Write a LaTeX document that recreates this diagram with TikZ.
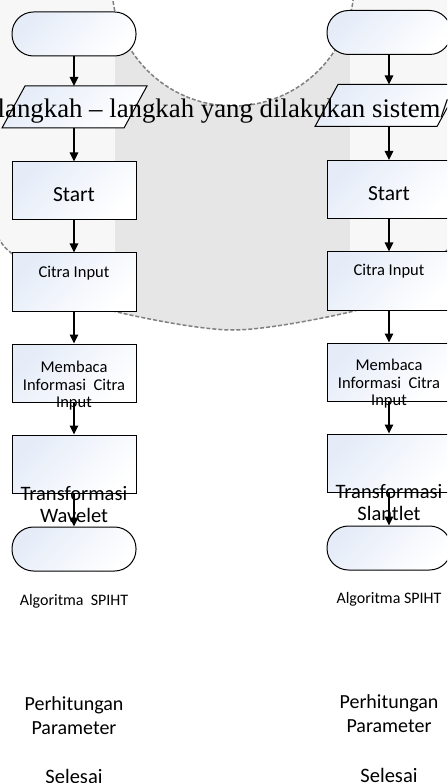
\documentclass[tikz,border=0pt]{standalone}
\usepackage{fontspec}
\setmainfont{Liberation Serif}
\newfontfamily\calfont{Carlito}
\usetikzlibrary{arrows.meta,shapes.geometric}
\definecolor{faint}{RGB}{247,247,247}
\definecolor{midgrey}{RGB}{230,230,230}
\definecolor{dashgrey}{RGB}{128,128,128}
\definecolor{bfill}{RGB}{229,236,248}
\begin{document}
\begin{tikzpicture}[x=1pt,y=-1pt,
  shapefill/.style={draw=black,line width=1pt,shading=axis,top color=bfill,bottom color=white,shading angle=45},
  box/.style={shapefill,minimum width=124pt,minimum height=58pt,inner sep=0pt},
  term/.style={box,minimum height=44pt,rounded corners=21.5pt},
  arr/.style={line width=1.4pt,-{Triangle[width=8.5pt,length=9pt]}},
  lbl/.style={font=\calfont, anchor=base, inner sep=0pt},
  dsh/.style={dashgrey,dash pattern=on 4pt off 2pt,line width=1.5pt},
]
\useasboundingbox (0,0) rectangle (447,783);
\clip (0,0) rectangle (447,783);
% background
\fill[faint] (0,0) -- (447,0) -- plot[smooth] coordinates {(447,250) (400,290) (350,312) (233,330) (117,312) (60,289) (10,252) (0,240)} -- cycle;
\begin{scope}
\clip (0,0) -- (447,0) -- plot[smooth] coordinates {(447,250) (400,290) (350,312) (233,330) (117,312) (60,289) (10,252) (0,240)} -- cycle;
\fill[midgrey] (115,0) rectangle (350,340);
\end{scope}
\fill[white] (233,-15) circle (121);
\draw[dsh] (233,-15) circle (121);
\draw[dsh] plot[smooth] coordinates {(447,250) (400,290) (350,312) (233,330) (117,312) (60,289) (10,252) (0,240)};

% left column
\node[term] (t1) at (74,34) {};
\draw[shapefill] (2,128) -- (25,86) -- (147,86) -- (124,128) -- cycle;
\coordinate (p1n) at (74,86);
\coordinate (p1s) at (74,128);
\node[box] (s1) at (74,191) {};
\node[box] (c1) at (74,282) {};
\node[box] (m1) at (74,373) {};
\node[box] (tr1) at (74,464) {};
\node[term] (e1) at (74,549) {};

% right column
\node[term] (t2) at (389,32.5) {};
\draw[shapefill] (315,126.5) -- (338,84.5) -- (460,84.5) -- (437,126.5) -- cycle;
\coordinate (p2n) at (389,84.5);
\coordinate (p2s) at (389,126.5);
\node[box] (s2) at (389,189.5) {};
\node[box] (c2) at (389,281) {};
\node[box] (m2) at (389,372) {};
\node[box] (tr2) at (389,463) {};
\node[term] (e2) at (389,548) {};

% arrows
\draw[arr] (t1.south) -- (p1n);
\draw[arr] (p1s) -- (s1.north);
\draw[arr] (s1.south) -- (c1.north);
\draw[arr] (c1.south) -- (m1.north);
\draw[arr] (m1.south) -- (tr1.north);
\draw[arr] (tr1.south) -- (e1.north);
\draw[arr] (t2.south) -- (p2n);
\draw[arr] (p2s) -- (s2.north);
\draw[arr] (s2.south) -- (c2.north);
\draw[arr] (c2.south) -- (m2.north);
\draw[arr] (m2.south) -- (tr2.north);
\draw[arr] (tr2.south) -- (e2.north);

% overlapping serif text
\node[anchor=base west,inner sep=0pt,font=\fontsize{26.8}{30}\selectfont] (ov) at (-2.5,118) {langkah – langkah yang dilakukan sistem/};

% left labels
\node[lbl,font=\calfont\fontsize{21.5}{24}\selectfont] (ls1) at (74,202) {Start};
\node[lbl,font=\calfont\fontsize{16.5}{18}\selectfont] (lc1) at (74,277) {Citra Input};
\node[lbl,font=\calfont\fontsize{16.5}{18}\selectfont] (lm1a) at (74,372) {Membaca};
\node[lbl,font=\calfont\fontsize{16.5}{18}\selectfont] (lm1b) at (74,390) {Informasi\ \ Citra};
\node[lbl,font=\calfont\fontsize{16.5}{18}\selectfont] (lm1c) at (74,407) {Input};
\node[lbl,font=\calfont\fontsize{20.5}{22}\selectfont] (ltr1a) at (74,500) {Transformasi};
\node[lbl,font=\calfont\fontsize{20.5}{22}\selectfont] (ltr1b) at (74,522) {Wavelet};
\node[lbl,font=\calfont\fontsize{16}{18}\selectfont] (la1) at (74,605) {Algoritma\ \ SPIHT};
\node[lbl,font=\calfont\fontsize{20}{22}\selectfont] (lp1a) at (74,710) {Perhitungan};
\node[lbl,font=\calfont\fontsize{20}{22}\selectfont] (lp1b) at (74,734) {Parameter};
\node[lbl,font=\calfont\fontsize{20.5}{22}\selectfont] (lse1) at (74,783) {Selesai};

% right labels
\node[lbl,font=\calfont\fontsize{21.5}{24}\selectfont] (ls2) at (389,200.5) {Start};
\node[lbl,font=\calfont\fontsize{16.5}{18}\selectfont] (lc2) at (389,275.5) {Citra Input};
\node[lbl,font=\calfont\fontsize{16.5}{18}\selectfont] (lm2a) at (389,370.5) {Membaca};
\node[lbl,font=\calfont\fontsize{16.5}{18}\selectfont] (lm2b) at (389,388.5) {Informasi\ \ Citra};
\node[lbl,font=\calfont\fontsize{16.5}{18}\selectfont] (lm2c) at (389,405.5) {Input};
\node[lbl,font=\calfont\fontsize{20.5}{22}\selectfont] (ltr2a) at (389,498.5) {Transformasi};
\node[lbl,font=\calfont\fontsize{20.5}{22}\selectfont] (ltr2b) at (389,520.5) {Slantlet};
\node[lbl,font=\calfont\fontsize{16}{18}\selectfont] (la2) at (389,603.5) {Algoritma SPIHT};
\node[lbl,font=\calfont\fontsize{20}{22}\selectfont] (lp2a) at (389,708.5) {Perhitungan};
\node[lbl,font=\calfont\fontsize{20}{22}\selectfont] (lp2b) at (389,732.5) {Parameter};
\node[lbl,font=\calfont\fontsize{20.5}{22}\selectfont] (lse2) at (389,782) {Selesai};
\end{tikzpicture}
\end{document}
